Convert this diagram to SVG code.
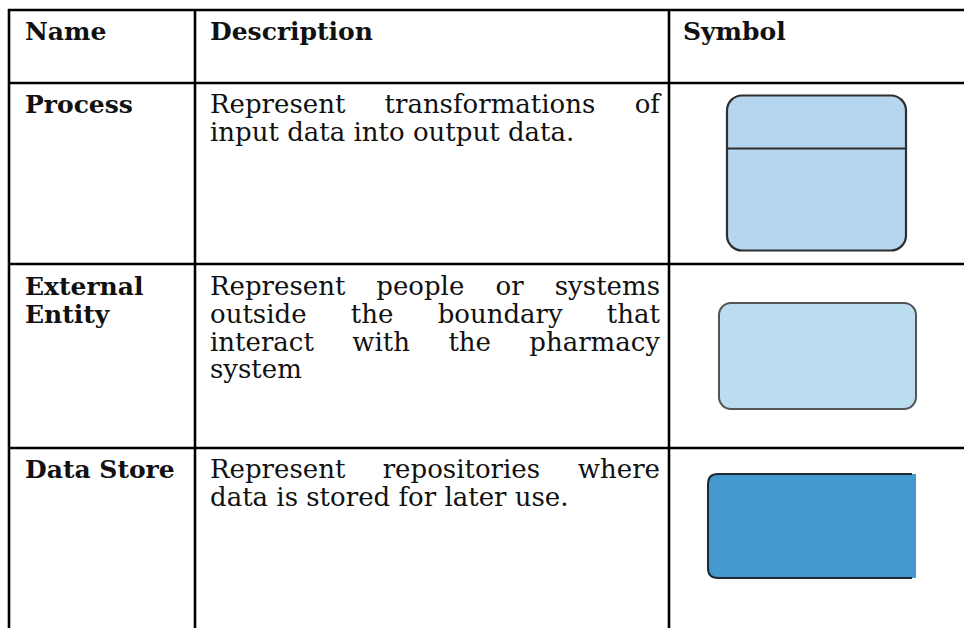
<svg xmlns="http://www.w3.org/2000/svg" width="964" height="628" viewBox="0 0 964 628">
  <style>
    .grid { stroke: #000; stroke-width: 2.6; fill: none; }
    .hd { font-family: "DejaVu Serif", "Liberation Serif", serif; font-weight: bold; font-size: 25px; fill: #111; }
    .tx { font-family: "DejaVu Serif", "Liberation Serif", serif; font-size: 26px; fill: #111; }
    .end { text-anchor: end; }
    .sym-outline { stroke: #2e2e2e; stroke-width: 2.2; }
  </style>
  <rect width="964" height="628" fill="#fff"/>

  <!-- table rules -->
  <g id="table-grid" class="grid">
    <line x1="8" y1="10" x2="964" y2="10"/>
    <line x1="8" y1="83" x2="964" y2="83"/>
    <line x1="8" y1="264" x2="964" y2="264"/>
    <line x1="8" y1="448" x2="964" y2="448"/>
    <line x1="9" y1="9" x2="9" y2="628"/>
    <line x1="195" y1="9" x2="195" y2="628"/>
    <line x1="669" y1="9" x2="669" y2="628"/>
  </g>

  <!-- header row -->
  <g id="header">
    <text class="hd" x="25" y="40">Name</text>
    <text class="hd" x="210" y="40">Description</text>
    <text class="hd" x="683" y="40">Symbol</text>
  </g>

  <!-- process row (justified lines: words placed one by one, 210..660) -->
  <g id="row-process">
    <text class="hd" x="25" y="113">Process</text>
    <text class="tx" x="210" y="113">Represent</text>
    <text class="tx" x="384.5" y="113">transformations</text>
    <text class="tx end" x="660" y="113">of</text>
    <text class="tx" x="210" y="140.5">input data into output data.</text>
    <g id="process-symbol">
      <rect x="727" y="95.5" width="179" height="155" rx="15" fill="#b6d6ef" class="sym-outline"/>
      <line x1="727" y1="148.5" x2="906" y2="148.5" class="sym-outline"/>
    </g>
  </g>

  <!-- external entity row -->
  <g id="row-external">
    <text class="hd" x="25" y="295">External</text>
    <text class="hd" x="25" y="323">Entity</text>
    <text class="tx" x="210" y="295">Represent</text>
    <text class="tx" x="376.3" y="295">people</text>
    <text class="tx" x="495.6" y="295">or</text>
    <text class="tx end" x="660" y="295">systems</text>
    <text class="tx" x="210" y="323">outside</text>
    <text class="tx" x="350.8" y="323">the</text>
    <text class="tx" x="437.7" y="323">boundary</text>
    <text class="tx end" x="660" y="323">that</text>
    <text class="tx" x="210" y="350.5">interact</text>
    <text class="tx" x="352.2" y="350.5">with</text>
    <text class="tx" x="448.4" y="350.5">the</text>
    <text class="tx end" x="660" y="350.5">pharmacy</text>
    <text class="tx" x="210" y="378">system</text>
    <g id="external-symbol">
      <rect x="719" y="303" width="197" height="106" rx="12" fill="#bcdcf0" stroke="#555" stroke-width="2"/>
    </g>
  </g>

  <!-- data store row -->
  <g id="row-datastore">
    <text class="hd" x="25" y="478">Data Store</text>
    <text class="tx" x="210" y="478">Represent</text>
    <text class="tx" x="382.7" y="478">repositories</text>
    <text class="tx end" x="660" y="478">where</text>
    <text class="tx" x="210" y="505.5">data is stored for later use.</text>
    <g id="datastore-symbol">
      <path d="M916,474 H718 Q708,474 708,484 V568 Q708,578 718,578 H916 Z" fill="#4499ce"/>
      <path d="M912,474 H718 Q708,474 708,484 V568 Q708,578 718,578 H912" fill="none" stroke="#1e2a33" stroke-width="2"/>
    </g>
  </g>
</svg>
